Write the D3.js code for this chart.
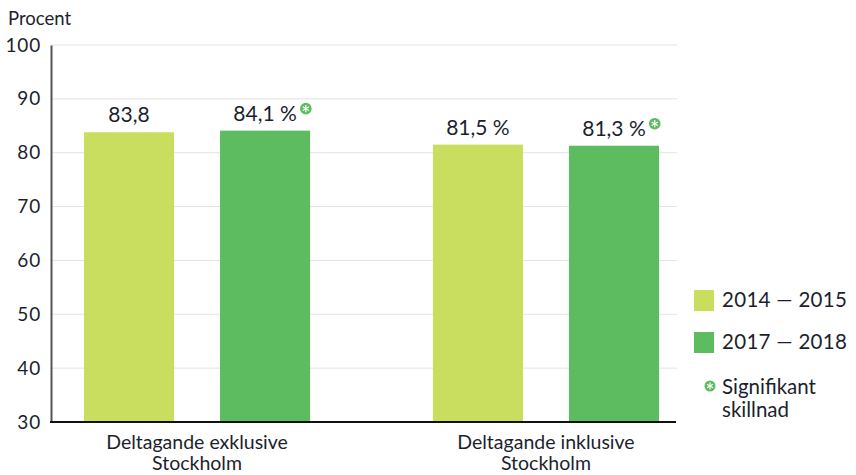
<!DOCTYPE html>
<html>
<head>
<meta charset="utf-8">
<script src="https://cdn.jsdelivr.net/npm/d3@7"></script>
<style>
  html, body { margin: 0; padding: 0; background: #fff; }
  svg text { font-family: "Lato", "DejaVu Sans", sans-serif; fill: #1c1f2e; }
</style>
</head>
<body>
<svg id="chart" width="856" height="475"></svg>
<script>
// Participation data, two periods per group
const categories = [["Deltagande exklusive", "Stockholm"], ["Deltagande inklusive", "Stockholm"]];
const categoryKeys = ["excl", "incl"];
const periods = ["2014 — 2015", "2017 — 2018"];
const values2014 = [83.8, 81.5];
const values2017 = [84.1, 81.3];
const labels2014 = ["83,8", "81,5 %"];
const labels2017 = ["84,1 %", "81,3 %"];
const significant2014 = [false, false];
const significant2017 = [true, true];
const yTicks = [30, 40, 50, 60, 70, 80, 90, 100];

const colors = ["#c9dd5f", "#5dbb60"];
const starColor = "#5dbb60";

const svg = d3.select("#chart");

const plotLeft = 51, plotRight = 677;
const y = d3.scaleLinear().domain([30, 100]).range([422, 45]);

const x0 = d3.scaleBand().domain(categoryKeys).range([84, 659]).paddingInner(0.352).paddingOuter(0);
const x1 = d3.scaleBand().domain(periods).range([0, x0.bandwidth()]).paddingInner(0.338).paddingOuter(0);

// Gridlines
svg.append("g")
  .selectAll("line")
  .data(yTicks.filter(t => t > 30))
  .join("line")
  .attr("x1", plotLeft).attr("x2", plotRight)
  .attr("y1", d => y(d)).attr("y2", d => y(d))
  .attr("stroke", "#e3e3e3").attr("stroke-width", 1);

// Y axis
const yAxis = d3.axisLeft(y).tickValues(yTicks).tickSize(0).tickPadding(10);
const yG = svg.append("g").attr("transform", `translate(${plotLeft},0)`).call(yAxis);
yG.select(".domain").attr("stroke", "#555").attr("stroke-width", 2);
yG.selectAll("text")
  .style("font-size", "19px")
  .style("letter-spacing", "0.8px")
  .attr("fill", "#1c1f2e");

svg.append("text").attr("x", 8).attr("y", 25).style("font-size", "18.5px").text("Procent");

// Bars
const rows = categoryKeys.map((k, i) => ({
  key: k,
  bars: [
    { period: periods[0], value: values2014[i], label: labels2014[i], sig: significant2014[i], color: colors[0] },
    { period: periods[1], value: values2017[i], label: labels2017[i], sig: significant2017[i], color: colors[1] }
  ]
}));

const groups = svg.append("g").selectAll("g")
  .data(rows).join("g")
  .attr("transform", d => `translate(${x0(d.key)},0)`);

groups.selectAll("rect")
  .data(d => d.bars).join("rect")
  .attr("x", d => x1(d.period))
  .attr("width", x1.bandwidth())
  .attr("y", d => y(d.value))
  .attr("height", d => y(30) - y(d.value))
  .attr("fill", d => d.color);

// Significance marker: green disc with a white asterisk
function drawStar(sel, cx, cy, r) {
  const g = sel.append("g").attr("transform", `translate(${cx},${cy})`);
  g.append("circle").attr("r", r).attr("fill", starColor);
  for (let a = 0; a < 3; a++) {
    const ang = (a * 60 + 90) * Math.PI / 180;
    g.append("line")
      .attr("x1", -r * 0.62 * Math.cos(ang)).attr("y1", -r * 0.62 * Math.sin(ang))
      .attr("x2", r * 0.62 * Math.cos(ang)).attr("y2", r * 0.62 * Math.sin(ang))
      .attr("stroke", "#fff").attr("stroke-width", 1.2);
  }
}

groups.each(function(d) {
  const g = d3.select(this);
  d.bars.forEach(b => {
    const cx = x1(b.period) + x1.bandwidth() / 2;
    const base = y(b.value) - 10;
    const t = g.append("text")
      .attr("x", cx).attr("y", base)
      .attr("text-anchor", "middle")
      .style("font-size", "21px")
      .text(b.label);
    if (b.sig) {
      const w = t.node().getComputedTextLength();
      drawStar(g, cx + w / 2 + 9, base - 12, 5.8);
    }
  });
});

// X axis baseline
svg.append("line")
  .attr("x1", plotLeft - 1).attr("x2", plotRight - 1)
  .attr("y1", y(30)).attr("y2", y(30))
  .attr("stroke", "#111").attr("stroke-width", 2);

// Category labels
const catG = svg.append("g").selectAll("text")
  .data(categoryKeys).join("text")
  .attr("text-anchor", "middle")
  .attr("x", d => x0(d) + x0.bandwidth() / 2)
  .attr("y", 449)
  .style("font-size", "19.5px");
catG.each(function(d, i) {
  const t = d3.select(this);
  categories[i].forEach((line, j) => {
    t.append("tspan").attr("x", x0(d) + x0.bandwidth() / 2).attr("dy", j === 0 ? 0 : 21).text(line);
  });
});

// Legend
const legend = svg.append("g");
periods.forEach((p, i) => {
  const ly = 290 + i * 42;
  legend.append("rect").attr("x", 694).attr("y", ly).attr("width", 20).attr("height", 21).attr("fill", colors[i]);
  legend.append("text").attr("x", 722).attr("y", ly + 17)
    .style("font-size", "20.5px").style("letter-spacing", "0.3px").text(p);
});
drawStar(legend, 710, 386, 5.5);
const sigText = legend.append("text").attr("x", 722).attr("y", 394).style("font-size", "20.5px");
sigText.append("tspan").attr("x", 722).text("Signifikant");
sigText.append("tspan").attr("x", 722).attr("dy", 23).text("skillnad");
</script>
</body>
</html>
